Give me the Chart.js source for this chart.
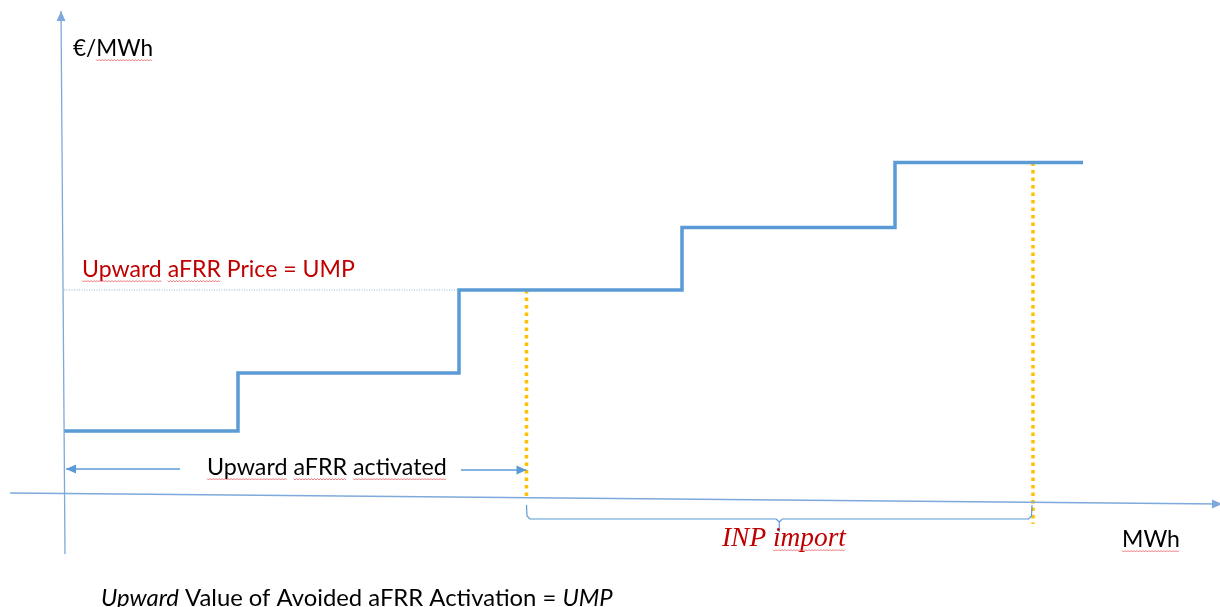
<!DOCTYPE html>
<html>
<head>
<meta charset="utf-8">
<script src="https://cdn.jsdelivr.net/npm/chart.js@4/dist/chart.umd.min.js"></script>
<style>
  body { margin: 0; background: #fff; }
  #wrap { width: 1220px; height: 607px; }
</style>
</head>
<body>
<div id="wrap"><canvas id="meritOrder" width="1220" height="607"></canvas></div>
<script>
// merit order curve (diagram units)
const stepEdges = [0, 17.4, 39.5, 61.8, 83.1, 101.9]      // MWh
const priceLevels = [6.3, 12.1, 20.4, 26.65, 33.15]        // €/MWh
const activatedVolume = 46.25   // upward aFRR activated
const totalVolume = 96.9        // activated + INP import
const umpLevel = priceLevels[2] // upward marginal price
const topLevel = priceLevels[4]

// axes as drawn in the picture (slightly tilted)
const yAxisEnds = [{x: 0.1, y: -6.0}, {x: -0.3, y: 48.3}]
const xAxisEnds = [{x: -5.4, y: 0.1}, {x: 115.8, y: -1.0}]

const blue = '#5B9BD5'
const axisBlue = '#7EA9DC'
const orange = '#FFC000'
const red = '#C00000'

function stepPoints(){
    let pts = priceLevels.map((p, i) => ({x: stepEdges[i], y: p}))
    pts.push({x: stepEdges[stepEdges.length - 1], y: priceLevels[priceLevels.length - 1]})
    return pts
}

function bracePoints(x1, x2){
    let mid = (x1 + x2) / 2
    return [
        {x: x1, y: -1.1}, {x: x1 + 0.05, y: -2.2}, {x: x1 + 0.35, y: -2.5},
        {x: mid - 0.3, y: -2.5}, {x: mid, y: -2.8}, {x: mid, y: -3.8},
        {x: mid, y: -2.8}, {x: mid + 0.3, y: -2.5},
        {x: x2 - 0.35, y: -2.5}, {x: x2 - 0.05, y: -2.2}, {x: x2, y: -1.1}
    ]
}

function line(points, color, width, extra){
    return Object.assign({
        data: points, showLine: true, borderColor: color, borderWidth: width,
        pointRadius: 0, fill: false, tension: 0
    }, extra || {})
}

const datasets = [
    line(yAxisEnds, axisBlue, 1.3, {arrow: 'end'}),
    line(xAxisEnds, axisBlue, 1.3, {arrow: 'end'}),
    line([{x: 0, y: umpLevel}, {x: stepEdges[2], y: umpLevel}], '#8DB6E2', 1, {borderDash: [1, 1.5]}),
    line([{x: 11.6, y: 2.5}, {x: 0.2, y: 2.5}], blue, 1.3, {arrow: 'end'}),
    line([{x: 39.7, y: 2.4}, {x: activatedVolume, y: 2.4}], blue, 1.3, {arrow: 'end'}),
    line(bracePoints(activatedVolume, totalVolume - 0.1), blue, 1.2),
    line(stepPoints(), blue, 3.5, {stepped: 'before', borderCapStyle: 'butt', borderJoinStyle: 'miter'}),
    line([{x: activatedVolume, y: umpLevel}, {x: activatedVolume, y: -0.3}], orange, 3.5, {borderDash: [3.5, 4]}),
    line([{x: totalVolume, y: topLevel}, {x: totalVolume, y: -3.0}], orange, 3.5, {borderDash: [3.5, 4]})
]

// text labels, placed in pixels; w is the width the text takes in the picture
const labels = [
    {text: '€/MWh', x: 73, y: 56, w: 80, color: '#000', family: 'Lato', squiggle: ['MWh']},
    {text: 'Upward aFRR Price = UMP', x: 82, y: 277, w: 273, color: red, family: 'Lato', squiggle: ['Upward', 'aFRR']},
    {text: 'Upward aFRR activated', x: 207, y: 475, w: 240, color: '#000', family: 'Lato', squiggle: ['Upward', 'aFRR', 'activated']},
    {text: 'INP import', x: 722, y: 546, w: 124, color: red, family: '"Liberation Serif"', style: 'italic', squiggle: ['import']},
    {text: 'MWh', x: 1122, y: 547, w: 58, color: '#000', family: 'Lato', squiggle: ['MWh']}
]
const footer = [
    {text: 'Upward', style: 'italic'},
    {text: ' Value of Avoided aFRR Activation = ', style: 'normal'},
    {text: 'UMP', style: 'italic'}
]
const footerWidth = 512

function fitSize(ctx, text, family, style, target){
    ctx.font = `${style} 20px ${family}`
    return 20 * target / ctx.measureText(text).width
}

function squiggle(ctx, x1, x2, y){
    ctx.save()
    ctx.strokeStyle = '#E8555A'
    ctx.lineWidth = 0.8
    ctx.beginPath()
    for (let x = x1, i = 0; x <= x2; x += 1.5, i++){
        let yy = y + (i % 2 ? 1 : -0.5)
        if (i === 0) ctx.moveTo(x, yy); else ctx.lineTo(x, yy)
    }
    ctx.stroke()
    ctx.restore()
}

function arrowHead(ctx, from, to, color){
    let ang = Math.atan2(to.y - from.y, to.x - from.x)
    let len = 10, half = 4.5
    ctx.save()
    ctx.fillStyle = color
    ctx.translate(to.x, to.y)
    ctx.rotate(ang)
    ctx.beginPath()
    ctx.moveTo(0, 0)
    ctx.lineTo(-len, -half)
    ctx.lineTo(-len, half)
    ctx.closePath()
    ctx.fill()
    ctx.restore()
}

const decorations = {
    id: 'decorations',
    beforeDraw(chart){
        let ctx = chart.ctx
        ctx.save()
        ctx.fillStyle = '#fff'
        ctx.fillRect(0, 0, chart.width, chart.height)
        ctx.restore()
    },
    afterDatasetsDraw(chart){
        let ctx = chart.ctx
        let xs = chart.scales.x, ys = chart.scales.y
        chart.data.datasets.forEach(ds => {
            if (!ds.arrow) return
            let n = ds.data.length
            let a = ds.data[n - 2], b = ds.data[n - 1]
            arrowHead(ctx,
                {x: xs.getPixelForValue(a.x), y: ys.getPixelForValue(a.y)},
                {x: xs.getPixelForValue(b.x), y: ys.getPixelForValue(b.y)},
                ds.borderColor)
        })

        ctx.save()
        ctx.textBaseline = 'alphabetic'
        labels.forEach(l => {
            let style = l.style || 'normal'
            let size = fitSize(ctx, l.text, l.family, style, l.w)
            ctx.font = `${style} ${size}px ${l.family}`
            ctx.fillStyle = l.color
            ctx.fillText(l.text, l.x, l.y)
            ;(l.squiggle || []).forEach(word => {
                let idx = l.text.indexOf(word)
                let x0 = l.x + ctx.measureText(l.text.slice(0, idx)).width
                let w = ctx.measureText(word).width
                squiggle(ctx, x0, x0 + w, l.y + 4)
            })
        })

        // footer line with mixed italics, scaled to its width in the picture
        let total = 0
        footer.forEach(part => {
            ctx.font = `${part.style} 20px Lato`
            total += ctx.measureText(part.text).width
        })
        let size = 20 * footerWidth / total
        let x = 101
        footer.forEach(part => {
            ctx.font = `${part.style} ${size}px Lato`
            ctx.fillStyle = '#000'
            ctx.fillText(part.text, x, 606)
            x += ctx.measureText(part.text).width
        })
        ctx.restore()
    }
}

new Chart(document.getElementById('meritOrder'), {
    type: 'scatter',
    data: {datasets: datasets},
    options: {
        responsive: false,
        animation: false,
        events: [],
        layout: {padding: 0},
        plugins: {legend: {display: false}, tooltip: {enabled: false}},
        scales: {
            x: {type: 'linear', min: -6.4, max: 115.6, display: false},
            y: {type: 'linear', min: -11.3, max: 49.4, display: false}
        }
    },
    plugins: [decorations]
})
</script>
</body>
</html>
